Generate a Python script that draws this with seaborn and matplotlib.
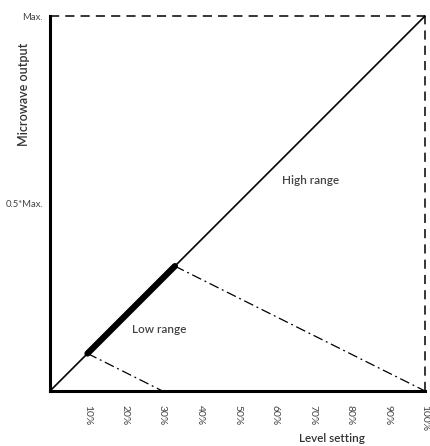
import numpy as np
import pandas as pd
import matplotlib
matplotlib.use("Agg")
import matplotlib.pyplot as plt
import seaborn as sns

sns.set_theme(style="white")
plt.rcParams["font.family"] = ["Lato", "DejaVu Sans"]

# level setting (%) vs. microwave output (% of Max)
diag_x = [0, 100]
diag_y = [0, 100]
low_x = [10, 33.3]
low_y = [10, 33.3]
drop1_x = [10, 30]
drop1_y = [10, 0]
drop2_x = [33.3, 100]
drop2_y = [33.3, 0]
max_x = [0, 100]
max_y = [100, 100]
right_x = [100, 100]
right_y = [0, 100]
tick_pos = [10, 20, 30, 40, 50, 60, 70, 80, 90, 100]
tick_labels = ["10%", "20%", "30%", "40%", "50%", "60%", "70%", "80%", "90%", "100%"]
ytick_pos = [50, 100]
ytick_labels = ["0.5*Max.", "Max."]

fig = plt.figure(figsize=(4.3, 4.46), dpi=100)
ax = fig.add_axes([50 / 430, 55 / 446, 375 / 430, 375 / 446])

kw = dict(estimator=None, sort=False, color="black", ax=ax, legend=False)
sns.lineplot(x=diag_x, y=diag_y, lw=1.2, **kw)
sns.lineplot(x=low_x, y=low_y, lw=4.5, solid_capstyle="round", **kw)
sns.lineplot(x=drop1_x, y=drop1_y, lw=0.9, linestyle=(0, (8, 3, 1.5, 3)), **kw)
sns.lineplot(x=drop2_x, y=drop2_y, lw=0.9, linestyle=(0, (8, 3, 1.5, 3)), **kw)
sns.lineplot(x=max_x, y=max_y, lw=1.1, linestyle=(0, (6, 4)), **kw)
sns.lineplot(x=right_x, y=right_y, lw=1.1, linestyle=(0, (6, 4)), **kw)
for ln in ax.lines:
    ln.set_clip_on(False)

ax.set_xlim(0, 100)
ax.set_ylim(0, 100)
for s in ["top", "right"]:
    ax.spines[s].set_visible(False)
for s in ["left", "bottom"]:
    ax.spines[s].set_color("black")
    ax.spines[s].set_linewidth(2.2)

ax.set_xticks(tick_pos)
ax.set_xticklabels(tick_labels, rotation=270, fontsize=7.5, color="#444444")
ax.set_yticks(ytick_pos)
ax.set_yticklabels(ytick_labels, fontsize=6.8, color="#444444")
ax.tick_params(axis="y", length=0, pad=5)
ax.tick_params(axis="x", length=0, pad=10)
ax.set_xlabel("")
ax.set_ylabel("")

fig.text(332 / 430, 1 - 439 / 446, "Level setting", ha="center", va="center",
         fontsize=8.5, color="#333333", fontweight="semibold")
fig.text(24 / 430, 1 - 94 / 446, "Microwave output", ha="center", va="center",
         rotation=90, fontsize=9, color="#333333", fontweight="semibold")
ax.text(69.5, 56, "High range", ha="center", va="center", fontsize=8.5,
        color="#444444", fontweight="semibold")
ax.text(29, 16.5, "Low range", ha="center", va="center", fontsize=8.5,
        color="#444444", fontweight="semibold")

fig.savefig("out.png", dpi=100)
